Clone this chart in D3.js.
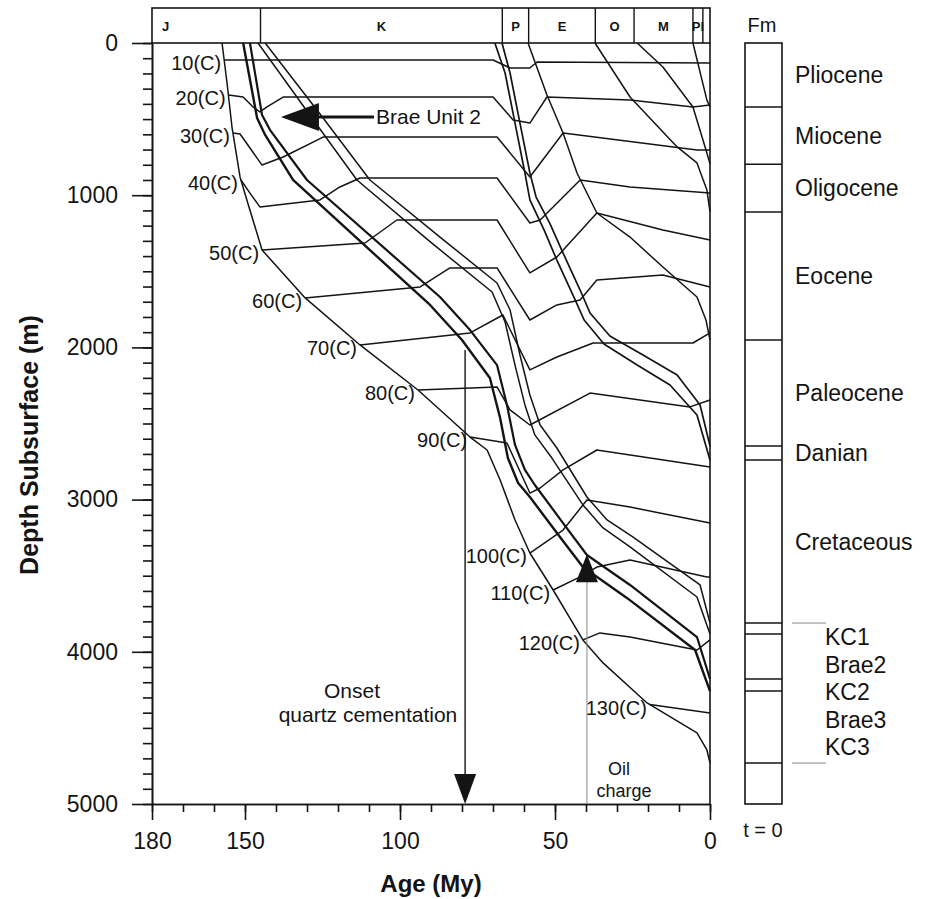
<!DOCTYPE html>
<html>
<head>
<meta charset="utf-8">
<title>Burial history</title>
<script src="https://cdn.jsdelivr.net/npm/d3@7/dist/d3.min.js"></script>
<style>
body { margin: 0; background: #fff; }
svg { font-family: "Liberation Sans", Arial, Helvetica, sans-serif; }
.axis path, .axis line { stroke: #141414; stroke-width: 1.6; }
.axis text { font-family: "Liberation Sans", Arial, sans-serif; font-size: 23px; fill: #141414; }
</style>
</head>
<body>
<svg id="chart" width="928" height="899"></svg>
<script>
var ageTicks = [180, 150, 100, 50, 0];
var depthTicks = [0, 1000, 2000, 3000, 4000, 5000];

// stratigraphic periods in the top band
var periodNames = ['J', 'K', 'P', 'E', 'O', 'M', 'Pl', ''];
var periodOld = [180, 145, 67, 58.5, 37, 24.5, 5.5, 2.3];
var periodYoung = [145, 67, 58.5, 37, 24.5, 5.5, 2.3, 0];

// present-day formation column, base depths (m)
var fmNames = ['Pliocene', 'Miocene', 'Oligocene', 'Eocene', 'Paleocene', 'Danian', 'Cretaceous'];
var fmBase = [420, 796, 1110, 1951, 2648, 2740, 3811, 3883, 4179, 4258, 4731];
var kcNames = ['KC1', 'Brae2', 'KC2', 'Brae3', 'KC3'];

// burial curves, [age My, depth m]
var plioceneBase = [[5.5, 0], [1.0, 375], [0, 420]];
var mioceneBase = [[23.5, 0], [15.2, 158], [5.5, 420], [1.0, 723], [0, 796]];
var oligoceneBase = [[37.1, 0], [25.8, 355], [10.6, 683], [4.2, 788], [1.0, 966], [0, 1110]];
var eoceneBase = [[58.7, 0], [52.6, 342], [47.4, 591], [42.9, 854], [36.5, 1117], [25.8, 1275], [15.2, 1472], [4.2, 1669], [1.3, 1820], [0, 1951]];
var danianTop = [[67.1, 0], [64.5, 197], [61.3, 526], [58.1, 854], [56.1, 1012], [51.6, 1189], [47.4, 1380], [41.9, 1623], [38.7, 1774], [32.3, 1925], [21.6, 2050], [10.6, 2181], [3.2, 2378], [0, 2648]];
var danianBase = [[69.4, 0], [66.1, 197], [62.9, 526], [59.7, 854], [58.1, 1031], [53.5, 1229], [49.4, 1426], [43.9, 1669], [40.6, 1820], [34.2, 1978], [23.5, 2116], [12.9, 2247], [4.2, 2444], [0, 2740]];
var cretaceousBase = [[143.5, 0], [124.8, 493], [109.7, 900], [87.1, 1275], [68.7, 1577], [64.5, 1754], [61.3, 2050], [58.1, 2313], [54.8, 2510], [49.4, 2661], [39.7, 2983], [33.2, 3134], [24.8, 3246], [3.2, 3561], [0, 3811]];
var kc1Base = [[145.8, 0], [128.4, 493], [113.9, 900], [91.0, 1294], [70.3, 1636], [66.1, 1833], [62.9, 2116], [59.7, 2378], [56.5, 2575], [51.0, 2727], [41.0, 3035], [34.5, 3186], [25.8, 3311], [4.2, 3640], [0, 3883]];
var brae2Base = [[148.4, 0], [144.5, 473], [141.9, 572], [130.0, 900], [87.1, 1669], [77.4, 1886], [68.7, 2116], [65.5, 2378], [62.9, 2641], [59.7, 2805], [56.5, 2904], [47.4, 3154], [39.7, 3364], [25.8, 3561], [4.2, 3903], [0, 4179]];
var kc2Base = [[150.6, 0], [146.1, 493], [143.5, 604], [134.5, 900], [90.3, 1721], [80.0, 1951], [71.0, 2201], [67.7, 2464], [65.2, 2727], [61.9, 2891], [58.1, 2983], [48.4, 3246], [41.0, 3443], [26.8, 3646], [4.8, 3988], [0, 4258]];
var kc3Base = [[157.4, 0], [155.8, 263], [154.2, 552], [151.6, 880], [149.4, 1031], [144.5, 1360], [130.6, 1675], [112.9, 1984], [94.2, 2280], [77.4, 2589], [71.9, 2674], [67.7, 2871], [62.9, 3134], [58.1, 3351], [50.6, 3594], [41.0, 3922], [34.5, 4073], [20.3, 4336], [4.2, 4533], [1.0, 4645], [0, 4731]];

// isotherms, [age My, depth m]
var isoTemps = [10, 20, 30, 40, 50, 60, 70, 80, 90, 100, 110, 120, 130];
var iso10 = [[156.7, 112], [70, 112], [64.5, 164], [58.1, 164], [55.8, 125], [0, 131]];
var iso20 = [[155.3, 342], [150.6, 355], [147.4, 420], [145.2, 453], [142.9, 420], [137.7, 355], [70.0, 355], [63.5, 506], [58.1, 526], [52.6, 355], [25.8, 375], [5.5, 420], [0, 407]];
var iso30 = [[153.9, 591], [151.6, 598], [148.4, 690], [144.5, 802], [137.7, 749], [124.8, 618], [68.7, 618], [58.1, 880], [47.4, 591], [4.2, 703], [0, 703]];
var iso40 = [[151.3, 900], [148.4, 986], [145.2, 1077], [125.8, 1031], [119.4, 946], [112.9, 887], [68.7, 887], [58.1, 1183], [54.8, 1163], [41.9, 900], [25.8, 946], [0, 986]];
var iso50 = [[144.5, 1360], [111.3, 1314], [101.0, 1163], [68.7, 1163], [58.1, 1511], [49.4, 1406], [36.5, 1117], [15.2, 1229], [0, 1294]];
var iso60 = [[130.6, 1675], [93.5, 1603], [83.9, 1478], [68.7, 1478], [58.1, 1820], [49.4, 1721], [41.9, 1689], [36.5, 1557], [15.2, 1524], [0, 1603]];
var iso70 = [[112.9, 1984], [77.4, 1905], [66.8, 1787], [58.1, 2148], [49.4, 2063], [37.7, 1971], [5.5, 1971], [0, 1905]];
var iso80 = [[94.2, 2280], [68.7, 2260], [64.5, 2411], [58.1, 2510], [38.7, 2300], [6.5, 2391], [0, 2346]];
var iso90 = [[77.4, 2589], [65.5, 2628], [58.1, 2957], [54.8, 2924], [47.4, 2805], [36.5, 2674], [0, 2786]];
var iso100 = [[58.1, 3351], [47.4, 3200], [39.7, 3003], [25.8, 3049], [0, 3154]];
var iso110 = [[50.6, 3594], [41.9, 3508], [36.5, 3443], [25.8, 3397], [1.0, 3508], [0, 3508]];
var iso120 = [[41.0, 3922], [35.5, 3876], [25.8, 3903], [4.2, 3988], [0, 3922]];
var iso130 = [[19.4, 4347], [0, 4402]];

// events
var quartzOnset = [79.0, 2017];
var oilCharge = [39.7, 3470];
var braeUnit2 = [138.4, 486];

var ink = '#141414';
var svg = d3.select('#chart');
var x = d3.scaleLinear().domain([180, 0]).range([152, 710]);
var y = d3.scaleLinear().domain([0, 5000]).range([43, 804]);
var line = d3.line()
    .x(function(d) { return x(d[0]); })
    .y(function(d) { return y(d[1]); });

// top period band
var bandTop = 8;
var band = svg.append('g');
band.append('rect')
    .attr('x', x(180)).attr('y', bandTop)
    .attr('width', x(0) - x(180)).attr('height', y(0) - bandTop)
    .attr('fill', 'none').attr('stroke', ink).attr('stroke-width', 1.6);
band.selectAll('line').data(periodOld.slice(1)).enter().append('line')
    .attr('x1', function(d) { return x(d); }).attr('x2', function(d) { return x(d); })
    .attr('y1', bandTop).attr('y2', y(0))
    .attr('stroke', ink).attr('stroke-width', 1.4);
band.selectAll('text').data(periodNames).enter().append('text')
    .attr('x', function(d, i) { return i === 0 ? x(180) + 10 : (x(periodOld[i]) + x(periodYoung[i])) / 2; })
    .attr('y', 31)
    .attr('text-anchor', function(d, i) { return i === 0 ? 'start' : 'middle'; })
    .attr('font-size', 13).attr('font-weight', 'bold').attr('fill', ink)
    .text(function(d) { return d; });

// axes
var yMinor = svg.append('g').attr('class', 'axis').attr('transform', 'translate(' + x(180) + ',0)');
yMinor.call(d3.axisLeft(y).tickValues(d3.range(0, 5001, 100)).tickSize(9).tickSizeOuter(0).tickFormat(''));
var yMajor = svg.append('g').attr('class', 'axis').attr('transform', 'translate(' + x(180) + ',0)');
yMajor.call(d3.axisLeft(y).tickValues(depthTicks).tickSize(20).tickSizeOuter(0).tickPadding(14).tickFormat(d3.format('d')));

var xMinor = svg.append('g').attr('class', 'axis').attr('transform', 'translate(0,' + y(5000) + ')');
xMinor.call(d3.axisBottom(x).tickValues(d3.range(0, 181, 10)).tickSize(8).tickSizeOuter(0).tickFormat(''));
var xMajor = svg.append('g').attr('class', 'axis').attr('transform', 'translate(0,' + y(5000) + ')');
xMajor.call(d3.axisBottom(x).tickValues(ageTicks).tickSize(16).tickSizeOuter(0).tickPadding(13).tickFormat(d3.format('d')));

svg.append('line')
    .attr('x1', x(0)).attr('x2', x(0)).attr('y1', y(0)).attr('y2', y(5000))
    .attr('stroke', ink).attr('stroke-width', 1.6);

svg.append('text')
    .attr('x', (x(180) + x(0)) / 2).attr('y', 892)
    .attr('text-anchor', 'middle').attr('font-size', 24).attr('font-weight', 'bold').attr('fill', ink)
    .text('Age (My)');
svg.append('text')
    .attr('transform', 'translate(38,445) rotate(-90)')
    .attr('text-anchor', 'middle').attr('font-size', 25).attr('font-weight', 'bold').attr('fill', ink)
    .text('Depth Subsurface (m)');

// isotherms
var isotherms = [iso10, iso20, iso30, iso40, iso50, iso60, iso70, iso80, iso90, iso100, iso110, iso120, iso130];
svg.append('g').selectAll('path').data(isotherms).enter().append('path')
    .attr('d', line)
    .attr('fill', 'none').attr('stroke', ink).attr('stroke-width', 1.5)
    .attr('stroke-linejoin', 'round');
svg.append('g').selectAll('text').data(isotherms).enter().append('text')
    .attr('x', function(d) { return x(d[0][0]) - 3; })
    .attr('y', function(d) { return y(d[0][1]) + 3; })
    .attr('dy', '0.35em').attr('text-anchor', 'end')
    .attr('font-size', 20).attr('fill', ink)
    .text(function(d, i) { return isoTemps[i] + '(C)'; });

// burial curves
var horizons = [
    { pts: plioceneBase, w: 1.5 }, { pts: mioceneBase, w: 1.5 },
    { pts: oligoceneBase, w: 1.5 }, { pts: eoceneBase, w: 1.5 },
    { pts: danianTop, w: 1.7 }, { pts: danianBase, w: 1.7 },
    { pts: cretaceousBase, w: 1.5 }, { pts: kc1Base, w: 1.5 },
    { pts: brae2Base, w: 2.2 }, { pts: kc2Base, w: 2.4 },
    { pts: kc3Base, w: 1.5 }
];
svg.append('g').selectAll('path').data(horizons).enter().append('path')
    .attr('d', function(d) { return line(d.pts); })
    .attr('fill', 'none').attr('stroke', ink)
    .attr('stroke-width', function(d) { return d.w; })
    .attr('stroke-linejoin', 'round');

// quartz cementation arrow
var qx = x(quartzOnset[0]);
svg.append('line')
    .attr('x1', qx).attr('x2', qx).attr('y1', y(quartzOnset[1])).attr('y2', y(5000) - 28)
    .attr('stroke', ink).attr('stroke-width', 1.4);
svg.append('path')
    .attr('d', 'M' + (qx - 11) + ',' + (y(5000) - 30) + 'L' + (qx + 11) + ',' + (y(5000) - 30) + 'L' + qx + ',' + y(5000) + 'Z')
    .attr('fill', ink);
svg.append('text').attr('x', 352).attr('y', 698).attr('text-anchor', 'middle')
    .attr('font-size', 21).attr('fill', ink).text('Onset');
svg.append('text').attr('x', 368).attr('y', 722).attr('text-anchor', 'middle')
    .attr('font-size', 21).attr('fill', ink).text('quartz cementation');

// oil charge marker
var ox = x(oilCharge[0]), oy = y(oilCharge[1]);
svg.append('line')
    .attr('x1', ox).attr('x2', ox).attr('y1', oy + 10).attr('y2', y(5000))
    .attr('stroke', '#888').attr('stroke-width', 1);
svg.append('path')
    .attr('d', 'M' + ox + ',' + (oy - 17) + 'L' + (ox + 11) + ',' + (oy + 11) + 'L' + (ox - 11) + ',' + (oy + 11) + 'Z')
    .attr('fill', ink);
svg.append('text').attr('x', 619).attr('y', 775).attr('text-anchor', 'middle')
    .attr('font-size', 18).attr('fill', ink).text('Oil');
svg.append('text').attr('x', 624).attr('y', 797).attr('text-anchor', 'middle')
    .attr('font-size', 18).attr('fill', ink).text('charge');

// Brae Unit 2 pointer
var bx = x(braeUnit2[0]), by = y(braeUnit2[1]);
svg.append('path')
    .attr('d', 'M' + bx + ',' + by + 'L' + (bx + 38) + ',' + (by - 14) + 'L' + (bx + 38) + ',' + (by + 14) + 'Z')
    .attr('fill', ink);
svg.append('line')
    .attr('x1', bx + 36).attr('x2', bx + 93).attr('y1', by).attr('y2', by)
    .attr('stroke', ink).attr('stroke-width', 3);
svg.append('text').attr('x', bx + 95).attr('y', by + 7)
    .attr('font-size', 21).attr('fill', ink).text('Brae Unit 2');

// formation column
var colX = 745, colW = 37;
var col = svg.append('g');
col.append('rect')
    .attr('x', colX).attr('y', y(0)).attr('width', colW).attr('height', y(5000) - y(0))
    .attr('fill', 'none').attr('stroke', ink).attr('stroke-width', 1.6);
col.selectAll('line.fm').data(fmBase).enter().append('line')
    .attr('x1', colX).attr('x2', colX + colW)
    .attr('y1', function(d) { return y(d); }).attr('y2', function(d) { return y(d); })
    .attr('stroke', ink).attr('stroke-width', 1.5);
col.selectAll('text.fm').data(fmNames).enter().append('text')
    .attr('x', colX + 50)
    .attr('y', function(d, i) { return y(((i === 0 ? 0 : fmBase[i - 1]) + fmBase[i]) / 2); })
    .attr('dy', '0.35em').attr('font-size', 23).attr('fill', ink)
    .text(function(d) { return d; });
col.selectAll('text.kc').data(kcNames).enter().append('text')
    .attr('x', colX + 80)
    .attr('y', function(d, i) { return y(fmBase[6]) + 14 + i * 27.5; })
    .attr('dy', '0.35em').attr('font-size', 23).attr('fill', ink)
    .text(function(d) { return d; });
col.selectAll('line.dash').data([fmBase[6], fmBase[10]]).enter().append('line')
    .attr('x1', colX + 47).attr('x2', colX + 81)
    .attr('y1', function(d) { return y(d); }).attr('y2', function(d) { return y(d); })
    .attr('stroke', '#888').attr('stroke-width', 1);
col.append('text').attr('x', colX + 17).attr('y', 32).attr('text-anchor', 'middle')
    .attr('font-size', 20).attr('fill', ink).text('Fm');
col.append('text').attr('x', colX + 18).attr('y', 837).attr('text-anchor', 'middle')
    .attr('font-size', 20).attr('fill', ink).text('t = 0');
</script>
</body>
</html>
